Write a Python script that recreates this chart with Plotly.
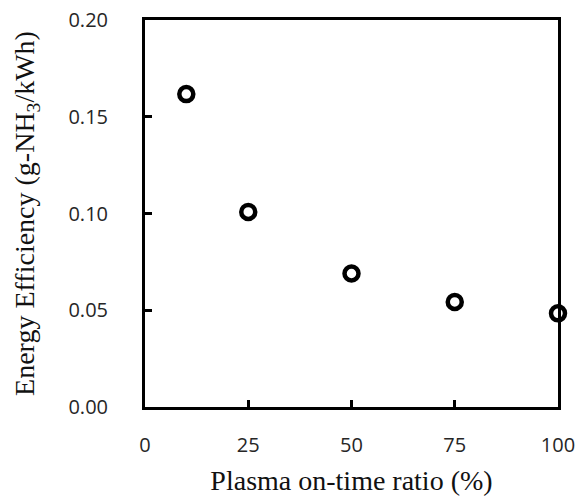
import plotly.graph_objects as go

on_time_ratio = [10, 25, 50, 75, 100]
energy_efficiency = [0.1617, 0.1008, 0.0690, 0.0543, 0.0484]
x_ticks = [0, 25, 50, 75, 100]
y_ticks = [0.00, 0.05, 0.10, 0.15, 0.20]
y_tick_labels = ["0.00", "0.05", "0.10", "0.15", "0.20"]

fig = go.Figure()
fig.add_trace(go.Scatter(
    x=on_time_ratio, y=energy_efficiency, mode="markers",
    marker=dict(symbol="circle-open", size=14, color="black", line=dict(width=4.5, color="black")),
    cliponaxis=False, showlegend=False,
))

tick_font = dict(family="Open Sans", size=20, color="#262626")
title_font = dict(family="Liberation Serif", size=28, color="#111111")

fig.update_layout(
    width=585, height=496,
    margin=dict(l=145, r=27, t=20, b=89),
    plot_bgcolor="white", paper_bgcolor="white",
    xaxis=dict(
        range=[0, 100], tickvals=x_ticks, ticktext=[str(v) for v in x_ticks],
        showgrid=False, zeroline=False, showline=True, linewidth=3, linecolor="black",
        mirror=True, ticks="inside", ticklen=7, tickwidth=2.5, tickcolor="black",
        tickfont=tick_font, ticklabelstandoff=18, automargin=False,
        title=dict(text="Plasma on-time ratio (%)", font=title_font, standoff=16),
    ),
    yaxis=dict(
        range=[0, 0.20], tickvals=y_ticks, ticktext=y_tick_labels,
        showgrid=False, zeroline=False, showline=True, linewidth=3, linecolor="black",
        mirror=True, ticks="inside", ticklen=7, tickwidth=2.5, tickcolor="black",
        tickfont=tick_font, ticklabelstandoff=30, automargin=False,
        title=dict(text="Energy Efficiency (g-NH<sub>3</sub>/kWh)", font=title_font, standoff=26),
    ),
)

fig.write_html("out.html", config={"displayModeBar": False},
               post_script="document.body.style.margin='0';")
